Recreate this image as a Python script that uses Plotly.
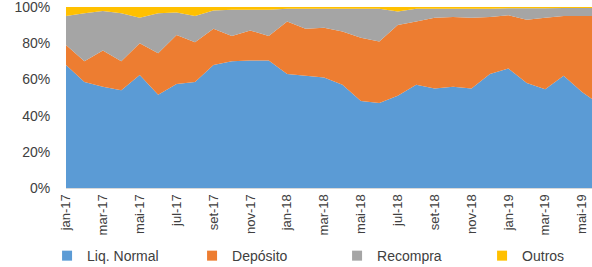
import plotly.graph_objects as go

months = ["jan-17","fev-17","mar-17","abr-17","mai-17","jun-17","jul-17","ago-17","set-17","out-17","nov-17","dez-17",
          "jan-18","fev-18","mar-18","abr-18","mai-18","jun-18","jul-18","ago-18","set-18","out-18","nov-18","dez-18",
          "jan-19","fev-19","mar-19","abr-19","mai-19","jun-19"]
tick_labels = ["jan-17","mar-17","mai-17","jul-17","set-17","nov-17","jan-18","mar-18","mai-18","jul-18","set-18","nov-18",
               "jan-19","mar-19","mai-19"]
y_ticks = [0, 20, 40, 60, 80, 100]
y_tick_text = ["0%", "20%", "40%", "60%", "80%", "100%"]

liq_normal = [68, 58.5, 56, 54, 62.5, 51.5, 57.5, 58.5, 68, 70, 70.5, 70.5,
              63, 62, 61, 57, 48, 47, 51, 57, 55, 56, 55, 63,
              66, 58, 54.5, 62, 53, 46]
deposito = [11, 11.5, 20, 16, 17.5, 23, 27, 22, 20, 14, 16.5, 13.5,
            29, 26, 27.5, 29.5, 35, 34, 39, 35, 39, 38.5, 39, 31.5,
            29.5, 35, 39.5, 33, 42, 49]
recompra = [16, 26.5, 21.8, 26.5, 14, 22, 12.5, 14.5, 10, 14.5, 11.5, 14.5,
            7, 11, 10.5, 12.5, 16, 18, 7.5, 7, 5, 4.5, 5, 4.5,
            3.8, 6.3, 5.3, 4.4, 4.4, 4.4]
outros = [round(100 - a - b - c, 2) for a, b, c in zip(liq_normal, deposito, recompra)]

names = ["Liq. Normal", "Depósito", "Recompra", "Outros"]
colors = ["#5B9BD5", "#ED7D31", "#A5A5A5", "#FFC000"]
series = [liq_normal, deposito, recompra, outros]

fig = go.Figure()
for name, col, vals in zip(names, colors, series):
    fig.add_trace(go.Scatter(x=months, y=vals, name=name, stackgroup="one", mode="none",
                             fillcolor=col, showlegend=False, hoverinfo="x+y+name"))
for name, col in zip(names, colors):
    fig.add_trace(go.Scatter(x=[None], y=[None], name=name, mode="markers",
                             marker=dict(symbol="square", size=10, color=col)))

fig.update_layout(
    width=592, height=267,
    margin=dict(l=66, r=0, t=7, b=79, autoexpand=False),
    paper_bgcolor="white", plot_bgcolor="white",
    font=dict(family="Liberation Sans, Arial, sans-serif", size=13, color="#404040"),
    showlegend=True,
    legend=dict(orientation="h", x=-0.036, xanchor="left", y=-0.376, yanchor="middle",
                traceorder="normal", bgcolor="rgba(0,0,0,0)",
                entrywidth=100, entrywidthmode="pixels", font=dict(size=14, color="#404040"),
                itemwidth=30, tracegroupgap=0),
)
fig.update_xaxes(type="category", range=[0, 28.54], tickmode="array", tickvals=tick_labels, ticktext=tick_labels,
                 tickangle=-90, showgrid=False, zeroline=False, showline=True, linecolor="#D9D9D9",
                 tickfont=dict(size=13, color="#404040"), automargin=False, ticklabeloverflow="allow")
fig.update_yaxes(range=[0, 100], tickmode="array", tickvals=y_ticks, ticktext=y_tick_text, showgrid=False,
                 zeroline=False, tickfont=dict(size=14, color="#404040"), automargin=False,
                 ticks="outside", ticklen=12, tickcolor="rgba(0,0,0,0)", ticklabeloverflow="allow")

fig.write_html("out.html", config={"displayModeBar": False},
               post_script="document.body.style.margin='0';")
